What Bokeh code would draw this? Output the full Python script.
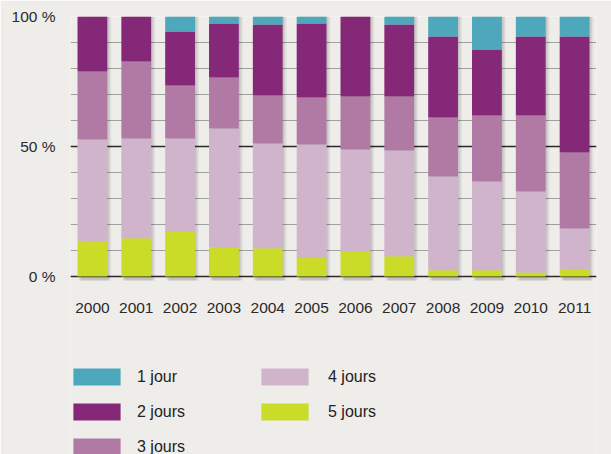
from bokeh.plotting import figure
from bokeh.models import (ColumnDataSource, FactorRange, FixedTicker, Grid,
                          Legend, LegendItem)
from bokeh.core.properties import value
from bokeh.transform import dodge
from bokeh.embed import file_html
from bokeh.resources import INLINE

years = ["2000", "2001", "2002", "2003", "2004", "2005",
         "2006", "2007", "2008", "2009", "2010", "2011"]
j5 = [13.5, 14.7, 17.1, 11.2, 10.9, 7.1, 9.4, 7.8, 2.4, 2.4, 1.5, 2.7]
j4 = [39.2, 38.4, 36.0, 45.7, 40.3, 43.7, 39.4, 40.7, 36.1, 34.1, 31.2, 15.8]
j3 = [26.1, 29.6, 20.4, 19.6, 18.4, 18.0, 20.4, 20.7, 22.7, 25.4, 29.2, 29.2]
j2 = [21.2, 17.3, 20.7, 20.8, 27.3, 28.5, 30.8, 27.7, 31.1, 25.4, 30.4, 44.6]
j1 = [0.0, 0.0, 5.8, 2.7, 3.1, 2.7, 0.0, 3.1, 7.7, 12.7, 7.7, 7.7]

series_keys = ["j5", "j4", "j3", "j2", "j1"]
series_labels = ["5 jours", "4 jours", "3 jours", "2 jours", "1 jour"]
colors = ["#cadb28", "#d0b4cc", "#b07aa5", "#862878", "#4ea8bc"]
y_ticks = [0, 50, 100]
y_tick_labels = ["0 %", "50 %", "100 %"]

full = [100.0] * len(years)
label_y = [-12.3] * len(years)
source = ColumnDataSource(dict(year=years, j5=j5, j4=j4, j3=j3, j2=j2, j1=j1,
                               full=full, label_y=label_y))

bg = "#efedea"
p = figure(width=611, height=454, x_range=FactorRange(*years, range_padding=0),
           y_range=(-68.46, 100), output_backend="svg", toolbar_location=None,
           min_border_left=70, min_border_right=15, min_border_top=16,
           min_border_bottom=0, background_fill_color=bg,
           border_fill_color=bg, outline_line_color=None)

# minor grid lines
p.xgrid.grid_line_color = None
p.ygrid.ticker = FixedTicker(ticks=list(range(0, 101, 10)))
p.ygrid.grid_line_color = "#a0a0a0"
p.ygrid.grid_line_width = 1
# major grid lines
p.add_layout(Grid(dimension=1, ticker=FixedTicker(ticks=y_ticks),
                  grid_line_color="#2a2a2a", grid_line_width=1.5))

# soft shadows
for off, alpha in [(0.09, 0.05), (0.06, 0.06), (0.03, 0.07)]:
    p.vbar(x=dodge("year", off, range=p.x_range), top="full", bottom=-1.5,
           width=0.68, source=source, fill_color="#000000", fill_alpha=alpha,
           line_color=None)

renderers = p.vbar_stack(series_keys, x="year", width=0.68, color=colors,
                         source=source, line_color=None)
rmap = dict(zip(series_labels, renderers))

# x category labels
p.text(x="year", y="label_y", text="year", source=source,
       text_font=value("Liberation Sans"), text_font_size="15.5px",
       text_color="#2a2a2a", text_align="center", text_baseline="middle")

# axes
p.xaxis.visible = False
p.yaxis.ticker = FixedTicker(ticks=y_ticks)
p.yaxis.major_label_overrides = dict(zip(y_ticks, y_tick_labels))
p.yaxis.axis_line_color = None
p.yaxis.major_tick_line_color = None
p.yaxis.minor_tick_line_color = None
p.yaxis.major_label_text_font = "Liberation Sans"
p.yaxis.major_label_text_font_size = "15.5px"
p.yaxis.major_label_text_color = "#2a2a2a"
p.yaxis.major_label_standoff = 9

common = dict(glyph_width=59, glyph_height=21, label_height=21, spacing=14,
              padding=0, margin=0,
              border_line_color=None, background_fill_alpha=0,
              label_text_font="Liberation Sans", label_text_font_size="16px",
              label_text_color="#222222")
leg1 = Legend(items=[LegendItem(label=l, renderers=[rmap[l]])
                     for l in ["1 jour", "2 jours", "3 jours"]],
              location=(-3, -3), label_standoff=11, **common)
leg2 = Legend(items=[LegendItem(label=l, renderers=[rmap[l]])
                     for l in ["4 jours", "5 jours"]],
              location=(185, 32), label_standoff=14, **common)
p.add_layout(leg1, "center")
p.add_layout(leg2, "center")

open("out.html", "w").write(file_html(p, INLINE))
